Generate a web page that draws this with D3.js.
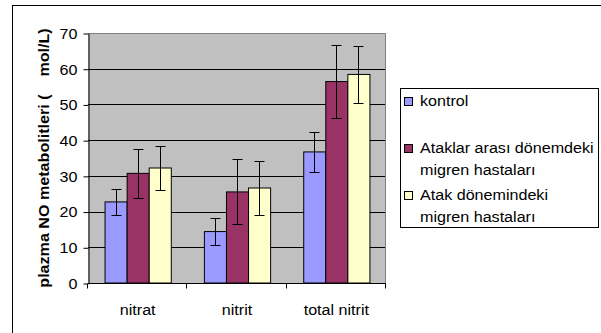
<!DOCTYPE html>
<html>
<head>
<meta charset="utf-8">
<script src="https://cdn.jsdelivr.net/npm/d3@7"></script>
<style>
  html, body { margin: 0; padding: 0; background: #fff; }
  svg { display: block; }
  text { font-family: "Liberation Sans", Arial, sans-serif; fill: #000; }
</style>
</head>
<body>
<svg id="chart" width="601" height="333"></svg>
<script>
// ---- data ----
const categories = ["nitrat", "nitrit", "total nitrit"];
const seriesNames = ["kontrol", "Ataklar arası dönemdeki migren hastaları", "Atak dönemindeki migren hastaları"];
const legendLines = [["kontrol"], ["Ataklar arası dönemdeki", "migren hastaları"], ["Atak dönemindeki", "migren hastaları"]];
const kontrol = [22.7, 14.4, 36.7];
const kontrolErr = [3.6, 3.7, 5.6];
const ataklarArasi = [30.7, 25.5, 56.4];
const ataklarArasiErr = [6.9, 9.1, 10.2];
const atak = [32.2, 26.6, 58.4];
const atakErr = [6.1, 7.5, 7.9];
const yTicks = [0, 10, 20, 30, 40, 50, 60, 70];
const yTitle = "plazma NO metabolitleri (\u00a0\u00a0\u00a0\u00a0mol/L)";
const colors = ["#9999FF", "#993366", "#FFFFCC"];

const values = [kontrol, ataklarArasi, atak];
const errors = [kontrolErr, ataklarArasiErr, atakErr];
const data = [];
categories.forEach((c, ci) => {
  seriesNames.forEach((s, si) => {
    data.push({cat: c, series: s, si: si, v: values[si][ci], e: errors[si][ci]});
  });
});

const STRETCH = 1.15;
function stretch(sel) {
  sel.each(function() {
    const w = this.getComputedTextLength();
    d3.select(this).attr("textLength", w * STRETCH).attr("lengthAdjust", "spacingAndGlyphs");
  });
  return sel;
}

const svg = d3.select("#chart");

// outer chart border (right/bottom off-canvas)
svg.append("rect").attr("x", 12.5).attr("y", 5.5).attr("width", 700).attr("height", 500)
  .attr("fill", "#fff").attr("stroke", "#000").attr("stroke-width", 1);

const plot = {left: 88, right: 386, top: 33, bottom: 283};

const x0 = d3.scaleBand().domain(categories).range([plot.left, plot.right]).padding(0);
const x1 = d3.scaleBand().domain(seriesNames).range([0, x0.bandwidth()]).paddingInner(0).paddingOuter(0.75);
const y = d3.scaleLinear().domain([0, 70]).range([plot.bottom, plot.top]);
const color = d3.scaleOrdinal().domain(seriesNames).range(colors);

// plot background
svg.append("rect").attr("x", plot.left).attr("y", plot.top)
  .attr("width", plot.right - plot.left).attr("height", plot.bottom - plot.top)
  .attr("fill", "#C0C0C0");

// gridlines
svg.append("g").selectAll("line").data(yTicks.filter(t => t > 0 && t < 70)).join("line")
  .attr("x1", plot.left).attr("x2", plot.right)
  .attr("y1", d => Math.round(y(d)) + 0.5).attr("y2", d => Math.round(y(d)) + 0.5)
  .attr("stroke", "#000").attr("stroke-width", 1);

// plot border top/right (gray)
svg.append("path")
  .attr("d", `M${plot.left},${plot.top + 0.5}H${plot.right - 0.5}V${plot.bottom}`)
  .attr("fill", "none").attr("stroke", "#808080").attr("stroke-width", 1);

// bars
svg.append("g").selectAll("rect").data(data).join("rect")
  .attr("x", d => x0(d.cat) + x1(d.series) + 0.5)
  .attr("y", d => y(d.v))
  .attr("width", x1.bandwidth())
  .attr("height", d => y(0) - y(d.v))
  .attr("fill", d => color(d.series))
  .attr("stroke", "#000").attr("stroke-width", 1);

// error bars
const eg = svg.append("g").attr("stroke", "#000").attr("stroke-width", 1);
data.forEach(d => {
  const cx = Math.round(x0(d.cat) + x1(d.series) + x1.bandwidth() / 2) + 0.5;
  const yt = Math.round(y(d.v + d.e)) + 0.5, yb = Math.round(y(d.v - d.e)) + 0.5;
  eg.append("line").attr("x1", cx).attr("x2", cx).attr("y1", yt).attr("y2", yb);
  eg.append("line").attr("x1", cx - 5).attr("x2", cx + 5).attr("y1", yt).attr("y2", yt);
  eg.append("line").attr("x1", cx - 5).attr("x2", cx + 5).attr("y1", yb).attr("y2", yb);
});

// y axis
const yAxis = d3.axisLeft(y).tickValues(yTicks).tickSize(5).tickPadding(6).tickSizeOuter(0);
const yg = svg.append("g").attr("transform", `translate(${plot.left + 0.5},0.5)`).call(yAxis);
yg.select(".domain").attr("stroke", "#000");
yg.selectAll(".tick line").attr("stroke", "#000");
yg.selectAll(".tick text").attr("font-size", 14).attr("font-family", "Liberation Sans, Arial, sans-serif")
  .attr("fill", "#000").attr("dy", "0.35em").call(stretch);

// x axis
const xAxis = d3.axisBottom(x0).tickSize(0).tickPadding(22).tickSizeOuter(0);
const xg = svg.append("g").attr("transform", `translate(0,${plot.bottom + 0.5})`).call(xAxis);
xg.select(".domain").attr("stroke", "#000").attr("d", `M${plot.left},0H${plot.right}`);
xg.selectAll(".tick text").attr("font-size", 14).attr("font-family", "Liberation Sans, Arial, sans-serif")
  .attr("fill", "#000").attr("dy", "0.71em").call(stretch);
// category boundary ticks
const bounds = categories.map(c => x0(c)).concat([x0(categories[categories.length - 1]) + x0.bandwidth()]);
xg.selectAll("line.bound").data(bounds).join("line").attr("class", "bound")
  .attr("x1", d => Math.round(d) - 0.5).attr("x2", d => Math.round(d) - 0.5)
  .attr("y1", 0).attr("y2", 5).attr("stroke", "#000");

// y title
svg.append("text")
  .attr("transform", `translate(49,${(plot.top + plot.bottom) / 2}) rotate(-90)`)
  .attr("text-anchor", "middle").attr("font-size", 14).attr("font-weight", "bold")
  .text(yTitle).call(stretch);

// legend
const lg = svg.append("g");
lg.append("rect").attr("x", 400.5).attr("y", 88.5).attr("width", 198).attr("height", 139)
  .attr("fill", "#fff").attr("stroke", "#000").attr("stroke-width", 1);
const baselines = [106, 153, 200];
legendLines.forEach((lines, i) => {
  lg.append("rect").attr("x", 404.5).attr("y", baselines[i] - 8.5).attr("width", 8).attr("height", 8)
    .attr("fill", colors[i]).attr("stroke", "#000").attr("stroke-width", 1);
  lines.forEach((t, j) => {
    lg.append("text").attr("x", 420).attr("y", baselines[i] + j * 22)
      .attr("font-size", 14).text(t).call(stretch);
  });
});
</script>
</body>
</html>
